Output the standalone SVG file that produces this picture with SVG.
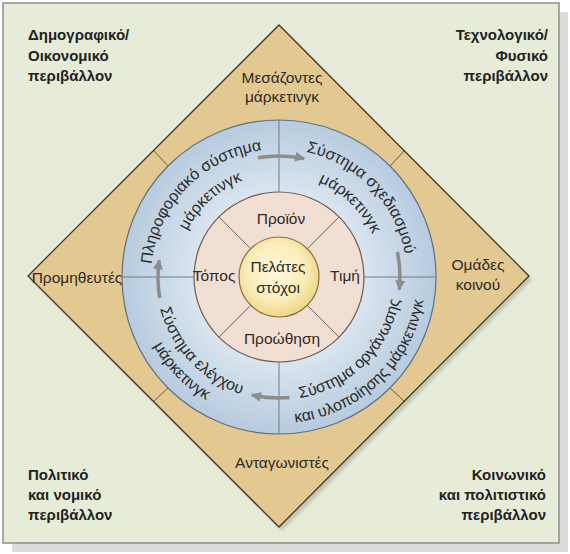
<svg xmlns="http://www.w3.org/2000/svg" width="570" height="554" viewBox="0 0 570 554">
<style>
.corner{font-family:"Liberation Sans",Arial,sans-serif;font-weight:bold;font-size:15px;fill:#222}
.lbl{font-family:"Liberation Sans",Arial,sans-serif;font-size:15.5px;fill:#2e2a25}
.ring{font-family:"Liberation Sans",Arial,sans-serif;font-size:16px;fill:#2a2a2a}
.div{stroke:#6f7a86;stroke-width:1;fill:none}
.tdiv{stroke:#6b5a3e;stroke-width:1;fill:none}
.pdiv{stroke:#7a6558;stroke-width:1;fill:none}
.arr{stroke:#8c8c8c;stroke-width:3.5;fill:none;marker-end:url(#ah)}
</style>
<defs>
<marker id="ah" viewBox="0 0 10 10" refX="9" refY="5" markerWidth="11" markerHeight="10" markerUnits="userSpaceOnUse" orient="auto">
<path d="M0,0 L10,5 L0,10 z" fill="#8c8c8c"/>
</marker>
<radialGradient id="gBlue" cx="279" cy="277" r="157" gradientUnits="userSpaceOnUse">
<stop offset="0.54" stop-color="#DAE5EF"/>
<stop offset="1" stop-color="#B7CBDF"/>
</radialGradient>
<radialGradient id="gYel" cx="276" cy="272" r="44" gradientUnits="userSpaceOnUse">
<stop offset="0" stop-color="#FDF8DE"/>
<stop offset="0.65" stop-color="#FAEDB8"/>
<stop offset="1" stop-color="#F0D88C"/>
</radialGradient>
<filter id="blur" x="-10%" y="-10%" width="120%" height="120%"><feGaussianBlur stdDeviation="1.5"/></filter>
<path id="pUL1" d="M182.4,361.0 A128,128 0 0 1 359.5,177.5"/>
<path id="pUL2" d="M196.7,339.0 A103,103 0 0 1 349.2,201.7"/>
<path id="pUR1" d="M198.5,177.5 A128,128 0 0 1 375.6,361.0"/>
<path id="pUR2" d="M211.4,199.3 A103,103 0 0 1 359.0,341.8"/>
<path id="pLR1" d="M199.1,370.5 A123,123 0 0 0 373.9,198.8"/>
<path id="pLR2" d="M182.3,386.4 A146,146 0 0 0 393.3,186.1"/>
<path id="pLL1" d="M194.3,187.8 A123,123 0 0 0 363.7,366.2"/>
<path id="pLL2" d="M177.6,172.0 A146,146 0 0 0 380.4,382.0"/>
</defs>

<g id="frame">
<rect x="12" y="12" width="556" height="540" fill="#DCDCDC"/>
<rect x="3" y="3" width="556" height="540" fill="#E7ECD9" stroke="#8E8E8E" stroke-width="1.5"/>
</g>

<g id="environment-labels">
<text class="corner" x="28" y="40">Δημογραφικό/</text>
<text class="corner" x="28" y="61">Οικονομικό</text>
<text class="corner" x="28" y="81">περιβάλλον</text>
<text class="corner" x="548" y="40" text-anchor="end">Τεχνολογικό/</text>
<text class="corner" x="548" y="61" text-anchor="end">Φυσικό</text>
<text class="corner" x="548" y="81" text-anchor="end">περιβάλλον</text>
<text class="corner" x="28" y="480">Πολιτικό</text>
<text class="corner" x="28" y="500">και νομικό</text>
<text class="corner" x="28" y="520">περιβάλλον</text>
<text class="corner" x="546" y="480" text-anchor="end">Κοινωνικό</text>
<text class="corner" x="546" y="500" text-anchor="end">και πολιτιστικό</text>
<text class="corner" x="546" y="520" text-anchor="end">περιβάλλον</text>
</g>

<g id="diamond">
<polygon points="282,29 532,280 282,531 31,280" fill="#9a9a8a" opacity="0.45" filter="url(#blur)"/>
<polygon points="279,25 529,276 279,527 28,276" fill="#E3C991" stroke="#3f3526" stroke-width="1.3"/>
<path class="tdiv" d="M168,166 L154,151 M390,166 L404,151 M168,388 L154,401 M390,388 L404,401"/>
<text class="lbl" x="282" y="83" text-anchor="middle">Μεσάζοντες</text>
<text class="lbl" x="282" y="102" text-anchor="middle">μάρκετινγκ</text>
<text class="lbl" x="77" y="283" text-anchor="middle">Προμηθευτές</text>
<text class="lbl" x="478" y="270" text-anchor="middle">Ομάδες</text>
<text class="lbl" x="478" y="290" text-anchor="middle">κοινού</text>
<text class="lbl" x="282" y="468" text-anchor="middle">Ανταγωνιστές</text>
</g>

<g id="marketing-systems">
<circle cx="279" cy="277" r="157" fill="url(#gBlue)" stroke="#5f6f82" stroke-width="1.2"/>
<path class="div" d="M279,120 L279,192 M279,362 L279,434 M122,277 L194,277 M364,277 L436,277"/>
<text class="ring"><textPath href="#pUL1" startOffset="50%" text-anchor="middle">Πληροφοριακό σύστημα</textPath></text>
<text class="ring"><textPath href="#pUL2" startOffset="50%" text-anchor="middle">μάρκετινγκ</textPath></text>
<text class="ring"><textPath href="#pUR1" startOffset="50%" text-anchor="middle">Σύστημα σχεδιασμού</textPath></text>
<text class="ring"><textPath href="#pUR2" startOffset="50%" text-anchor="middle">μάρκετινγκ</textPath></text>
<text class="ring"><textPath href="#pLR1" startOffset="50%" text-anchor="middle">Σύστημα οργάνωσης</textPath></text>
<text class="ring"><textPath href="#pLR2" startOffset="50%" text-anchor="middle">και υλοποίησης μάρκετινγκ</textPath></text>
<text class="ring"><textPath href="#pLL1" startOffset="50%" text-anchor="middle">Σύστημα ελέγχου</textPath></text>
<text class="ring"><textPath href="#pLL2" startOffset="50%" text-anchor="middle">μάρκετινγκ</textPath></text>
</g>

<g id="connectors">
<path class="arr" d="M258,157.8 A121,121 0 0 1 304.2,158.6"/>
<path class="arr" d="M397.4,251.8 A121,121 0 0 1 399.3,289.6"/>
<path class="arr" d="M289.5,397.5 A121,121 0 0 1 251.8,394.9"/>
<path class="arr" d="M159.8,298 A121,121 0 0 1 159.2,260.2"/>
</g>

<g id="marketing-mix">
<circle cx="279" cy="277" r="85" fill="#F2DFD3" stroke="#6e5a50" stroke-width="1.2"/>
<path class="pdiv" d="M251,249 L219,217 M307,249 L339,217 M251,305 L219,337 M307,305 L339,337"/>
<text class="lbl" x="281" y="224" text-anchor="middle">Προϊόν</text>
<text class="lbl" x="214" y="281" text-anchor="middle">Τόπος</text>
<text class="lbl" x="345" y="281" text-anchor="middle">Τιμή</text>
<text class="lbl" x="282" y="344" text-anchor="middle">Προώθηση</text>
</g>

<g id="target-customers">
<circle cx="279" cy="277" r="40" fill="url(#gYel)" stroke="#8b6f3a" stroke-width="1.2"/>
<text class="lbl" x="278" y="272" text-anchor="middle">Πελάτες</text>
<text class="lbl" x="278" y="293" text-anchor="middle">στόχοι</text>
</g>
</svg>
